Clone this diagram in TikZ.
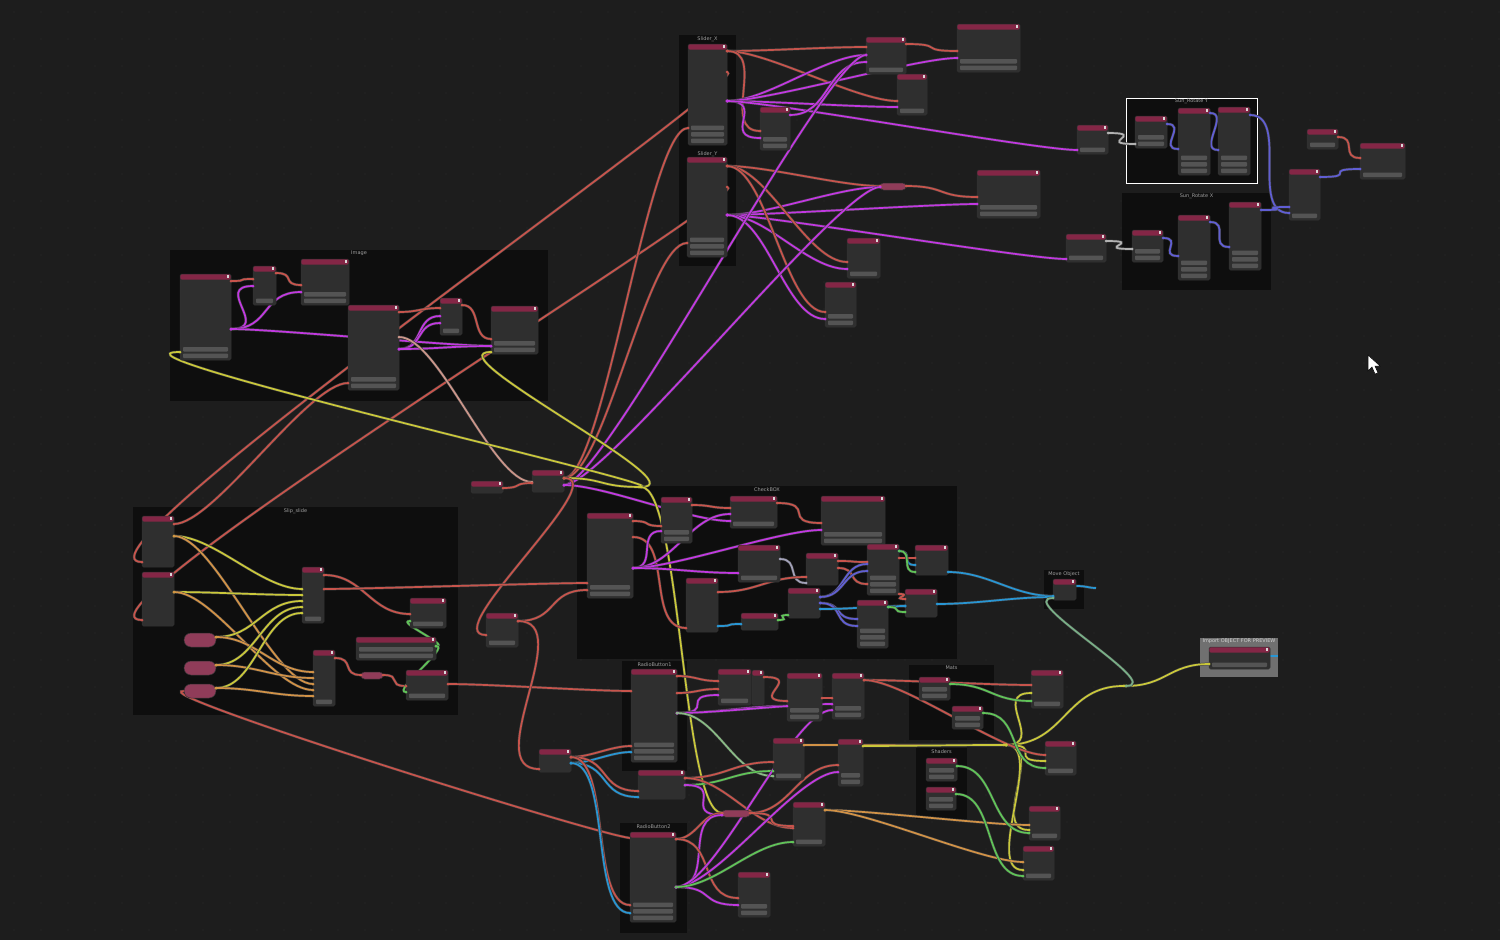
\documentclass[tikz,border=0pt]{standalone}
\usepackage{fontspec}
\setmainfont{DejaVu Sans}
\usetikzlibrary{positioning}

\definecolor{achter}{RGB}{29,29,29}
\definecolor{raster}{RGB}{42,42,42}
\definecolor{kaderkl}{RGB}{14,14,14}
\definecolor{importgrijs}{RGB}{112,112,112}
\definecolor{romp}{RGB}{47,47,47}
\definecolor{kop}{RGB}{132,38,70}
\definecolor{balk}{RGB}{84,84,84}
\definecolor{wrood}{RGB}{200,84,76}
\definecolor{wpaars}{RGB}{194,56,226}
\definecolor{wgeel}{RGB}{202,200,58}
\definecolor{wgroen}{RGB}{96,196,88}
\definecolor{wblauw}{RGB}{40,150,212}
\definecolor{wviool}{RGB}{96,94,212}
\definecolor{wgrijs}{RGB}{178,178,178}
\definecolor{woranje}{RGB}{210,146,70}
\definecolor{wbeige}{RGB}{204,150,138}

\pgfdeclarelayer{kaders}
\pgfdeclarelayer{draden}
\pgfsetlayers{kaders,draden,main}

% blok: naam, x, y, breedte, hoogte, balken
\newcommand\blok[6]{%
  \node[blokromp, minimum width=#4pt, minimum height=#5pt, anchor=north west] (#1) at (#2,#3) {};
  \fill[kop, rounded corners=1.2pt] ([shift={(0.4pt,-0.4pt)}]#1.north west) rectangle ([shift={(-0.4pt,-5.5pt)}]#1.north east);
  \fill[white!85!black] ([shift={(-4.2pt,-1.3pt)}]#1.north east) rectangle ([shift={(-1.6pt,-4.2pt)}]#1.north east);
  \ifnum#6>0\relax
    \foreach \b in {1,...,#6}
      \fill[balk, rounded corners=0.8pt] ([shift={(3pt,\b*6.5pt-4.5pt)}]#1.south west) rectangle ([shift={(-3pt,\b*6.5pt)}]#1.south east);
  \fi}
% pil: naam, x, y, breedte, hoogte, straal
\newcommand\pil[6]{%
  \node[pilvorm, rounded corners=#6, minimum width=#4pt, minimum height=#5pt, anchor=north west] (#1) at (#2,#3) {};}
% knoop (reroute)
\newcommand\knoop[3]{\node[knoopvorm] (#1) at (#2,#3) {};}
% draad: [raaklijn] kleur, van, dy, naar, dy
\newcommand\draad[6][40]{%
  \begin{pgfonlayer}{draden}
  \draw[draad,#2] ([yshift=-#4pt]#3.north east) .. controls +(#1,0) and +(-#1,0) .. ([yshift=-#6pt]#5.north west);
  \end{pgfonlayer}
  \fill[#2] ([yshift=-#4pt]#3.north east) circle (1.5pt) ([yshift=-#6pt]#5.north west) circle (1.5pt);}
% kader: [vulling] x1, y1, x2, y2, titel
\newcommand\kader[6][kaderkl]{%
  \begin{pgfonlayer}{kaders}
  \fill[#1] (#2,#3) rectangle (#4,#5);
  \node[kadertekst] at ({(#2+#4)/2},#3) {#6};
  \end{pgfonlayer}}

\begin{document}
\begin{tikzpicture}[x=1pt, y=-1pt,
  blokromp/.style={draw=black!80, fill=romp, rounded corners=1.5pt, inner sep=0pt, outer sep=0pt, line width=0.5pt},
  pilvorm/.style={draw=black!80, fill=kop!90!white, inner sep=0pt, outer sep=0pt, line width=0.5pt},
  knoopvorm/.style={circle, fill=wgeel, inner sep=0pt, outer sep=0pt, minimum size=3pt},
  draad/.style={line width=1.7pt, preaction={draw=black!75, line width=2.7pt}},
  kadertekst/.style={anchor=north, inner sep=1pt, text=white!62!black, font=\fontsize{5}{6}\selectfont}]

  % achtergrond
  \begin{pgfonlayer}{kaders}
  \fill[achter] (0,0) rectangle (1500,940);
  \foreach \gx in {14,41,...,1500}
    \foreach \gy in {12,39,...,940}
      \fill[raster] (\gx,\gy) circle (0.7pt);
  \end{pgfonlayer}
  \useasboundingbox (0,0) rectangle (1500,940);

  % kaders
  \kader{679}{35}{736}{150}{Slider\_X}
  \kader{679}{150}{736}{266}{Slider\_Y}
  \kader{170}{250}{548}{401}{Image}
  \kader{133}{507}{458}{715}{Slip\_slide}
  \kader{577}{486}{957}{659}{CheckBOX}
  \kader{622}{661}{687}{771}{RadioButton1}
  \kader{620}{823}{687}{933}{RadioButton2}
  \kader[kaderkl,draw=white,line width=0.9pt]{1126}{98}{1257}{183}{Sun\_Rotate Y}
  \kader{1122}{193}{1271}{290}{Sun\_Rotate X}
  \kader{1044}{570}{1084}{609}{Move Object}
  \kader[importgrijs]{1200}{638}{1278}{677}{\color{white!82!black}Import OBJECT FOR PREVIEW}
  \kader{909}{665}{994}{740}{Mats}
  \kader{916}{748}{967}{819}{Shaders}

  % sliders
  \blok{sldx}{688}{44}{39}{101}{3}
  \blok{sldy}{687}{157}{40}{100}{3}
  \blok{tmap}{866}{37}{40}{37}{1}
  \blok{tcomb}{957}{24}{63}{48}{2}
  \blok{tmath1}{897}{74}{30}{41}{1}
  \blok{tmath2}{760}{107}{30}{43}{2}
  \pil{mpil}{880}{183}{26}{7}{3.5pt}
  \blok{mcomb}{977}{170}{63}{48}{2}
  \blok{mmath1}{847}{238}{33}{40}{1}
  \blok{mmath2}{825}{282}{31}{45}{2}

  % zon
  \blok{zoninY}{1077}{125}{31}{29}{1}
  \blok{zoninX}{1066}{234}{40}{28}{1}
  \blok{ry1}{1135}{116}{32}{32}{2}
  \blok{ry2}{1178}{108}{32}{67}{3}
  \blok{ry3}{1218}{107}{32}{68}{3}
  \blok{rx1}{1132}{230}{31}{32}{2}
  \blok{rx2}{1178}{215}{32}{65}{3}
  \blok{rx3}{1229}{202}{32}{68}{3}
  \blok{zonmix}{1289}{169}{31}{51}{1}
  \blok{zonlamp}{1307}{129}{31}{20}{1}
  \blok{zonuit}{1360}{143}{45}{36}{1}

  % image
  \blok{imgA}{180}{274}{51}{86}{2}
  \blok{imgB}{253}{266}{23}{39}{1}
  \blok{imgC}{301}{259}{48}{46}{2}
  \blok{imgD}{348}{305}{51}{85}{2}
  \blok{imgE}{440}{298}{22}{37}{1}
  \blok{imgF}{491}{306}{47}{48}{2}

  % midden
  \blok{tijd}{471}{481}{32}{12}{0}
  \blok{optel}{532}{470}{32}{22}{0}
  \blok{schak}{486}{613}{32}{34}{1}
  \knoop{rr1}{640}{487}

  % slip
  \blok{ss1}{142}{516}{32}{51}{0}
  \blok{ss2}{142}{572}{32}{54}{0}
  \pil{pa}{184}{633}{32}{14}{7pt}
  \pil{pb}{184}{661}{32}{14}{7pt}
  \pil{pc}{184}{684}{32}{14}{7pt}
  \blok{sidx}{302}{567}{22}{56}{1}
  \blok{sidx2}{313}{650}{22}{56}{1}
  \blok{scmp}{410}{598}{36}{30}{1}
  \blok{sstr}{356}{637}{80}{23}{2}
  \pil{sklein}{361}{672}{22}{7}{3.5pt}
  \blok{suit}{406}{670}{42}{30}{1}

  % checkbox
  \blok{cbA}{587}{513}{46}{85}{2}
  \blok{cbB}{661}{497}{31}{46}{2}
  \blok{cbC}{730}{496}{47}{32}{1}
  \blok{cbD}{821}{496}{64}{49}{2}
  \blok{cbE}{738}{545}{42}{37}{1}
  \blok{cbF}{806}{553}{32}{32}{0}
  \blok{cbG}{686}{578}{32}{54}{0}
  \blok{cbH}{741}{613}{37}{17}{0}
  \blok{cbI}{788}{588}{32}{30}{0}
  \blok{cbJ}{867}{544}{32}{51}{3}
  \blok{cbK}{915}{545}{33}{30}{0}
  \blok{cbL}{857}{600}{31}{48}{3}
  \blok{cbM}{905}{589}{32}{28}{0}

  % beweeg, import
  \blok{beweeg}{1053}{579}{23}{21}{0}
  \blok{import}{1209}{647}{61}{22}{1}
  \coordinate (beweegeind) at (1096,588);
  \coordinate (importeind) at (1278,656);

  % mats, shaders
  \blok{mat1}{919}{677}{31}{23}{2}
  \blok{mat2}{952}{706}{31}{23}{2}
  \blok{shd1}{926}{758}{31}{23}{2}
  \blok{shd2}{926}{787}{30}{23}{2}
  \blok{sw1}{1031}{670}{32}{38}{1}
  \blok{sw2}{1045}{741}{31}{34}{1}
  \blok{sw3}{1029}{806}{31}{34}{1}
  \blok{sw4}{1023}{846}{31}{34}{1}
  \knoop{rr2}{1005}{745}
  \knoop{rr3}{1125}{686}

  % radio
  \blok{rb1}{631}{669}{46}{93}{3}
  \blok{rb2}{630}{832}{46}{90}{3}
  \blok{rsel}{539}{749}{32}{23}{0}
  \blok{rstr}{638}{770}{47}{29}{0}
  \blok{bA}{718}{669}{33}{36}{1}
  \blok{bB}{752}{670}{12}{35}{0}
  \blok{bC}{787}{673}{35}{48}{2}
  \blok{bD}{832}{673}{32}{46}{2}
  \blok{bE}{773}{738}{31}{42}{1}
  \blok{bF}{838}{739}{25}{47}{2}
  \pil{bpil}{722}{810}{28}{7}{3.5pt}
  \blok{bG}{793}{802}{32}{44}{1}
  \blok{bH}{738}{872}{32}{45}{2}

  % draden boven
  \draad{wrood}{sldx}{7}{tmap}{10}
  \draad{wrood}{sldx}{7}{tmath1}{27}
  \draad{wrood}{sldx}{7}{tmath2}{24}
  \draad{wpaars}{sldx}{57}{tmap}{18}
  \draad{wpaars}{sldx}{57}{tmath1}{33}
  \draad{wpaars}{sldx}{57}{tmath2}{31}
  \draad{wpaars}{sldx}{57}{tcomb}{34}
  \draad{wpaars}{sldx}{57}{zoninY}{25}
  \draad{wpaars}{tmath2}{8}{tmap}{25}
  \draad{wrood}{tmap}{7}{tcomb}{27}
  \draad{wrood}{sldy}{9}{mpil}{3}
  \draad{wrood}{mpil}{3}{mcomb}{27}
  \draad{wpaars}{sldy}{58}{mpil}{4}
  \draad{wpaars}{sldy}{58}{mcomb}{34}
  \draad{wpaars}{sldy}{58}{zoninX}{25}
  \draad{wrood}{sldy}{9}{mmath1}{24}
  \draad{wpaars}{sldy}{58}{mmath1}{31}
  \draad{wrood}{sldy}{9}{mmath2}{30}
  \draad{wpaars}{sldy}{58}{mmath2}{37}
  \begin{pgfonlayer}{draden}
  \draw[draad,wrood] ([yshift=-28pt]sldx.north east) .. controls +(35,0) and +(-90,0) .. ([yshift=-46pt]ss1.north west);
  \draw[draad,wrood] ([yshift=-30pt]sldy.north east) .. controls +(35,0) and +(-90,0) .. ([yshift=-48pt]ss2.north west);
  \end{pgfonlayer}
  \fill[wrood] ([yshift=-28pt]sldx.north east) circle (1.5pt) ([yshift=-30pt]sldy.north east) circle (1.5pt)
    ([yshift=-46pt]ss1.north west) circle (1.5pt) ([yshift=-48pt]ss2.north west) circle (1.5pt);

  % draden zon
  \draad{wgrijs}{zoninY}{8}{ry1}{28}
  \draad{wgrijs}{zoninX}{7}{rx1}{19}
  \draad[20]{wviool}{ry1}{8}{ry2}{41}
  \draad[20]{wviool}{ry2}{5}{ry3}{43}
  \draad{wviool}{ry3}{8}{zonmix}{44}
  \draad[20]{wviool}{rx1}{8}{rx2}{41}
  \draad[20]{wviool}{rx2}{7}{rx3}{45}
  \draad{wviool}{rx3}{8}{zonmix}{38}
  \draad{wviool}{zonmix}{8}{zonuit}{26}
  \draad[20]{wrood}{zonlamp}{8}{zonuit}{15}

  % draden image
  \draad[20]{wrood}{imgA}{7}{imgB}{13}
  \draad{wpaars}{imgA}{55}{imgB}{20}
  \draad{wpaars}{imgA}{55}{imgC}{33}
  \draad{wpaars}{imgA}{55}{imgF}{40}
  \draad[20]{wrood}{imgB}{7}{imgC}{26}
  \draad[20]{wrood}{imgD}{7}{imgE}{10}
  \draad[25]{wpaars}{imgD}{44}{imgE}{18}
  \draad[25]{wpaars}{imgD}{44}{imgE}{25}
  \draad[20]{wrood}{imgE}{7}{imgF}{33}
  \draad{wpaars}{imgD}{44}{imgF}{40}
  \draad{wbeige}{imgD}{32}{optel}{12}
  \draad{wrood}{ss1}{8}{imgD}{78}

  % draden midden
  \draad[20]{wrood}{tijd}{7}{optel}{13}
  \draad{wrood}{optel}{8}{sldx}{84}
  \draad{wrood}{optel}{8}{sldy}{86}
  \draad{wpaars}{optel}{15}{tmap}{18}
  \draad{wpaars}{optel}{15}{mpil}{4}
  \draad{wpaars}{optel}{15}{cbC}{25}
  \draad{wgeel}{optel}{8}{rr1}{1}
  \begin{pgfonlayer}{draden}
  \draw[draad,wgeel] ([yshift=-1pt]rr1.north east) .. controls +(40,0) and +(-95,0) .. ([yshift=-78pt]imgA.north west);
  \end{pgfonlayer}
  \fill[wgeel] ([yshift=-78pt]imgA.north west) circle (1.5pt);
  \draad[60]{wgeel}{rr1}{1}{imgF}{46}
  \draad[50]{wrood}{optel}{8}{schak}{22}
  \draad{wrood}{schak}{8}{cbA}{77}
  \draad{wgeel}{rr1}{1}{bpil}{3}

  % draden slip
  \draad{wgeel}{ss1}{20}{sidx}{22}
  \draad{woranje}{ss1}{20}{sidx2}{34}
  \draad{wgeel}{ss2}{20}{sidx}{28}
  \draad{woranje}{ss2}{20}{sidx2}{40}
  \draad{wgeel}{pa}{4}{sidx}{34}
  \draad{woranje}{pa}{4}{sidx2}{22}
  \draad{wgeel}{pb}{4}{sidx}{40}
  \draad{woranje}{pb}{4}{sidx2}{28}
  \draad{wgeel}{pc}{4}{sidx}{46}
  \draad{woranje}{pc}{4}{sidx2}{46}
  \draad{wrood}{sidx}{8}{scmp}{16}
  \draad[20]{wrood}{sidx2}{8}{sklein}{3}
  \draad[20]{wrood}{sklein}{3}{suit}{16}
  \draad[15]{wgroen}{sstr}{9}{scmp}{23}
  \draad[15]{wgroen}{sstr}{9}{suit}{22}
  \draad{wrood}{suit}{14}{rb1}{22}
  \draad{wrood}{sidx}{22}{cbA}{70}
  \begin{pgfonlayer}{draden}
  \draw[draad,wrood] ([yshift=-7pt]pc.north west) .. controls +(-45,0) and +(-40,-5) .. ([yshift=-6pt]rb2.north west);
  \end{pgfonlayer}

  % draden checkbox
  \draad[20]{wrood}{cbA}{8}{cbB}{29}
  \draad{wrood}{cbA}{24}{cbG}{50}
  \draad[25]{wpaars}{cbA}{55}{cbB}{34}
  \draad{wpaars}{cbA}{55}{cbC}{18}
  \draad{wpaars}{cbA}{55}{cbD}{34}
  \draad{wpaars}{cbA}{55}{cbE}{28}
  \draad[20]{wrood}{cbB}{8}{cbC}{12}
  \draad{wrood}{cbC}{7}{cbD}{27}
  \draad[20]{wgrijs!80!wviool}{cbE}{14}{cbF}{30}
  \draad{wrood}{cbG}{14}{cbF}{24}
  \draad[20]{wrood}{cbF}{8}{cbJ}{18}
  \draad[20]{wrood}{cbF}{15}{cbJ}{40}
  \draad[25]{wviool}{cbI}{9}{cbJ}{20}
  \draad[25]{wviool}{cbI}{9}{cbJ}{27}
  \draad[25]{wviool}{cbI}{15}{cbL}{19}
  \draad[25]{wviool}{cbI}{15}{cbL}{26}
  \draad[20]{wblauw}{cbG}{48}{cbH}{11}
  \draad[15]{wgroen}{cbH}{7}{cbI}{27}
  \draad{wblauw}{cbI}{21}{cbM}{17}
  \draad[15]{wrood}{cbJ}{14}{cbK}{13}
  \draad[15]{wblauw}{cbJ}{7}{cbK}{20}
  \draad[15]{wgroen}{cbJ}{7}{cbK}{27}
  \draad[15]{wrood}{cbJ}{50}{cbM}{10}
  \draad[15]{wblauw}{cbL}{7}{cbM}{17}
  \draad[15]{wgroen}{cbL}{7}{cbM}{23}

  % draden beweeg, import
  \draad{wblauw}{cbK}{27}{beweeg}{17}
  \draad{wblauw}{cbM}{15}{beweeg}{18}
  \begin{pgfonlayer}{draden}
  \draw[draad,wblauw] ([yshift=-7pt]beweeg.north east) .. controls +(12,0) and +(-8,0) .. (beweegeind);
  \draw[draad,wblauw] ([yshift=-9pt]import.north east) .. controls +(5,0) and +(-4,0) .. (importeind);
  \end{pgfonlayer}

  % draden mats, shaders
  \draad{woranje}{bE}{7}{rr2}{1}
  \draad{wgeel}{bF}{7}{rr2}{1}
  \draad[60]{wgeel}{rr2}{1}{rr3}{1}
  \draad{wgeel}{rr3}{1}{import}{17}
  \draad{wgeel!50!wblauw}{rr3}{1}{beweeg}{19}
  \draad{wgeel}{rr2}{1}{sw1}{23}
  \draad{wgeel}{rr2}{1}{sw2}{20}
  \draad{wgeel}{rr2}{1}{sw3}{24}
  \draad{wgeel}{rr2}{1}{sw4}{24}
  \draad{wrood}{bD}{7}{sw1}{15}
  \draad{wrood}{bD}{7}{sw2}{14}
  \draad{woranje}{bG}{8}{sw3}{19}
  \draad{woranje}{bG}{8}{sw4}{16}
  \draad{wgroen}{mat1}{7}{sw1}{31}
  \draad{wgroen}{mat2}{7}{sw2}{27}
  \draad{wgroen}{shd1}{8}{sw3}{27}
  \draad{wgroen}{shd2}{7}{sw4}{30}

  % draden radio
  \draad[20]{wrood}{rsel}{8}{rb1}{77}
  \draad[20]{wblauw}{rsel}{14}{rb1}{83}
  \draad{wrood}{rsel}{8}{rstr}{21}
  \draad{wblauw}{rsel}{14}{rstr}{27}
  \draad{wrood}{rsel}{8}{rb2}{73}
  \draad{wblauw}{rsel}{14}{rb2}{81}
  \draad[60]{wrood}{schak}{8}{rsel}{20}
  \draad[20]{wrood}{rb1}{7}{bA}{12}
  \draad[20]{wrood}{rb1}{24}{bA}{20}
  \draad{wrood}{bB}{7}{bC}{28}
  \draad{wpaars}{rb1}{44}{bA}{26}
  \draad{wpaars}{rb1}{44}{bC}{33}
  \draad{wpaars}{rb1}{44}{bD}{31}
  \draad[15]{wrood}{bC}{25}{bD}{25}
  \draad{wgrijs!50!wgroen}{rb1}{44}{bE}{38}
  \draad{wrood}{rstr}{8}{bE}{24}
  \draad{wgroen}{rstr}{15}{bE}{33}
  \draad{wrood}{rstr}{8}{bG}{26}
  \draad{wpaars}{rstr}{15}{bpil}{5}
  \draad[20]{wrood}{rb2}{7}{bpil}{3}
  \draad{wpaars}{rb2}{55}{bpil}{5}
  \draad{wrood}{bpil}{3}{bF}{26}
  \draad{wrood}{bpil}{3}{bG}{24}
  \draad{wrood}{rb2}{7}{bH}{26}
  \draad{wpaars}{rb2}{55}{bH}{33}
  \draad{wpaars}{rb2}{55}{bF}{33}
  \draad{wpaars}{rb2}{55}{bD}{37}
  \draad{wgroen}{rb2}{55}{bG}{40}

  % muis
  \filldraw[fill=white, draw=black, line width=0.5pt] (1368,355) -- (1368,371) -- (1372,367) -- (1375,374) -- (1378,373) -- (1375,366) -- (1380,366) -- cycle;
\end{tikzpicture}
\end{document}
